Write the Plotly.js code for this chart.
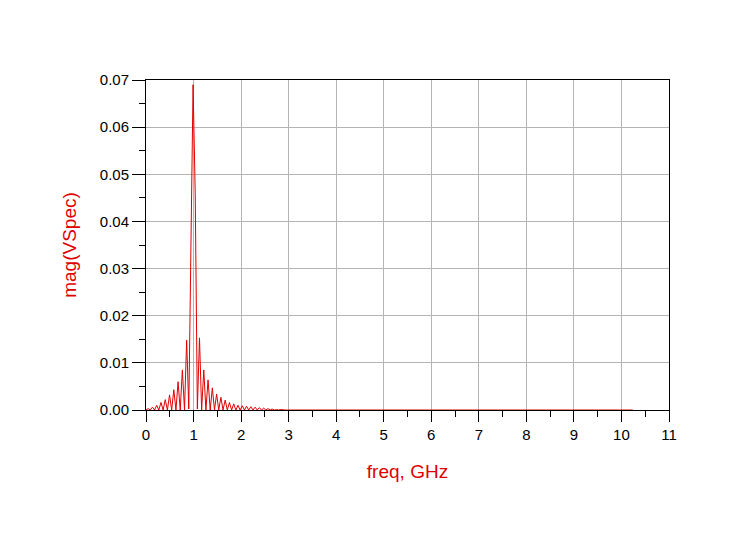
<!DOCTYPE html>
<html>
<head>
<meta charset="utf-8">
<script src="https://cdn.plot.ly/plotly-3.0.1.min.js"></script>
<style>html,body{margin:0;padding:0;background:#fff;}#chart{width:747px;height:544px;}</style>
</head>
<body>
<div id="chart"></div>
<script>
// frequency samples (GHz)
var freqGHz = [0, 0.045, 0.09, 0.135, 0.18, 0.225, 0.27, 0.315, 0.36, 0.405,
  0.45, 0.495, 0.54, 0.585, 0.63, 0.675, 0.72, 0.765, 0.81, 0.855,
  0.9, 0.945, 0.99, 1.035, 1.08, 1.125, 1.17, 1.215, 1.26, 1.305,
  1.35, 1.395, 1.44, 1.485, 1.53, 1.575, 1.62, 1.665, 1.71, 1.755,
  1.8, 1.845, 1.89, 1.935, 1.98, 2.025, 2.07, 2.115, 2.16, 2.205,
  2.25, 2.295, 2.34, 2.385, 2.43, 2.475, 2.52, 2.565, 2.61, 2.655,
  2.7, 2.745, 2.79, 2.835, 2.88, 2.925, 2.97, 10.24];
// mag(VSpec) values
var magVSpec = [0, 0.0003, 0, 0.0006, 0, 0.0010, 0, 0.0016, 0, 0.0022,
  0, 0.0032, 0, 0.0043, 0, 0.0060, 0, 0.0085, 0, 0.0148,
  0.0002, 0.034, 0.069, 0.046, 0.0002, 0.0153, 0, 0.0085, 0, 0.0064,
  0, 0.0047, 0, 0.0034, 0, 0.0027, 0, 0.0021, 0, 0.0016,
  0, 0.0013, 0, 0.0010, 0, 0.0009, 0, 0.0008, 0, 0.0007,
  0, 0.0006, 0, 0.0005, 0, 0.0004, 0, 0.0003, 0, 0.0002,
  0, 0.0001, 0, 0.0001, 0, 0, 0, 0];
var xTickVals = [0,1,2,3,4,5,6,7,8,9,10,11];
var yTickVals = [0,0.01,0.02,0.03,0.04,0.05,0.06,0.07];

var red = '#e00000';
var font = 'Liberation Sans, Arial, sans-serif';

var trace = {
  x: freqGHz, y: magVSpec, type: 'scatter', mode: 'lines',
  line: {color: red, width: 1}, hoverinfo: 'skip'
};

var layout = {
  width: 747, height: 544,
  margin: {l: 146, r: 78, t: 80, b: 134},
  paper_bgcolor: '#ffffff', plot_bgcolor: '#ffffff',
  showlegend: false,
  font: {family: font, color: '#000'},
  xaxis: {
    range: [0, 11], tickvals: xTickVals, ticktext: xTickVals.map(String),
    showgrid: true, gridcolor: '#b4b4b4', gridwidth: 1,
    showline: true, linecolor: '#000', linewidth: 1, mirror: true,
    ticks: 'outside', ticklen: 11, tickcolor: '#000', tickwidth: 1,
    minor: {dtick: 0.5, tick0: 0, ticks: 'outside', ticklen: 6, tickcolor: '#000', showgrid: false},
    tickfont: {size: 15, family: font, color: '#000'},
    zeroline: false, fixedrange: true,
    title: {text: 'freq, GHz', font: {size: 19, color: red, family: font}, standoff: 22}
  },
  yaxis: {
    range: [0, 0.07], tickvals: yTickVals, tickformat: '.2f',
    showgrid: true, gridcolor: '#b4b4b4', gridwidth: 1,
    showline: true, linecolor: '#000', linewidth: 1, mirror: true,
    ticks: 'outside', ticklen: 13, tickcolor: '#000', tickwidth: 1,
    minor: {dtick: 0.005, tick0: 0, ticks: 'outside', ticklen: 6, tickcolor: '#000', showgrid: false},
    tickfont: {size: 15, family: font, color: '#000'},
    zeroline: false, fixedrange: true,
    title: {text: 'mag(VSpec)', font: {size: 19, color: red, family: font}, standoff: 18}
  }
};

Plotly.newPlot('chart', [trace], layout, {staticPlot: true, displayModeBar: false});
</script>
</body>
</html>
